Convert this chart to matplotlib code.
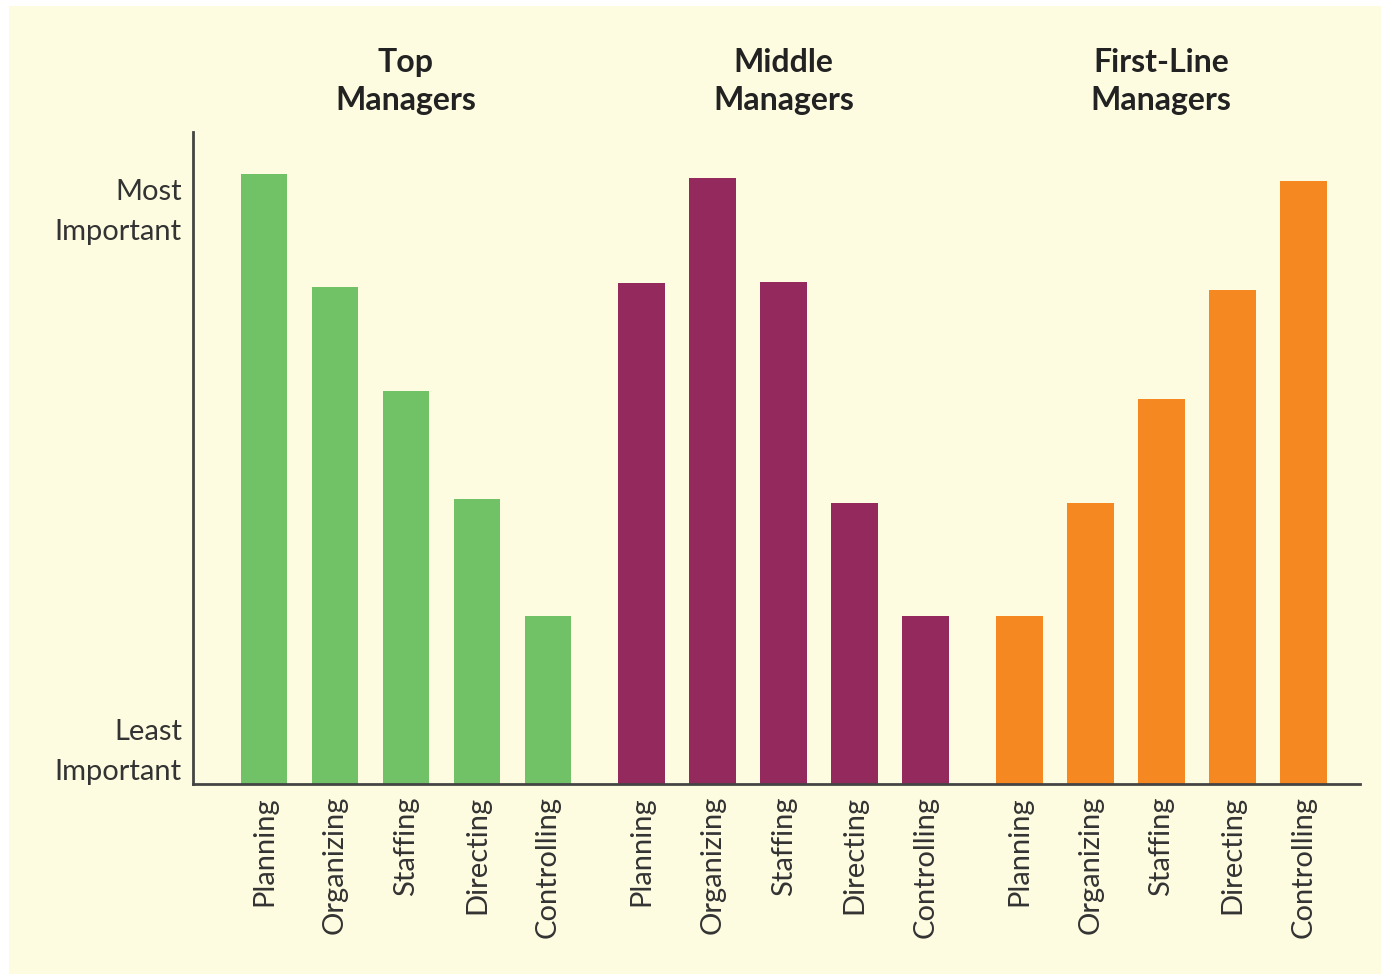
import matplotlib
matplotlib.use("Agg")
import matplotlib.pyplot as plt
from matplotlib.patches import Rectangle
import numpy as np

plt.rcParams['font.family'] = ['Lato', 'DejaVu Sans']

groups = ["Top\nManagers", "Middle\nManagers", "First-Line\nManagers"]
functions = ["Planning", "Organizing", "Staffing", "Directing", "Controlling"]
top_vals = [610, 497, 393, 285, 168]
middle_vals = [501, 606, 502, 281, 168]
first_vals = [168, 281, 385, 494, 603]
colors = ["#71C167", "#93295C", "#F58820"]
ytick_labels = ["Least\nImportant", "Most\nImportant"]

W, H = 1381, 978
fig = plt.figure(figsize=(W / 100, H / 100), dpi=100, facecolor="white")
fig.patches.append(Rectangle((9 / W, 3 / H), (W - 9) / W, (H - 10) / H,
                             transform=fig.transFigure, facecolor="#FEFCE0",
                             edgecolor="none", zorder=-10))

ax = fig.add_axes([193 / W, (H - 785) / H, (1360 - 193) / W, (785 - 133) / H])
ax.set_facecolor("none")
ax.set_zorder(5)

gstep = 5.32
series = [top_vals, middle_vals, first_vals]
xticks, xlabels = [], []
for g, vals in enumerate(series):
    xs = np.arange(len(functions)) + g * gstep
    ax.bar(xs, vals, width=0.66, color=colors[g], zorder=2)
    xticks.extend(xs)
    xlabels.extend(functions)
    ax.text(xs.mean(), 1.027, groups[g], transform=ax.get_xaxis_transform(),
            ha="center", va="bottom", fontsize=23, fontweight="bold",
            color="#222222", linespacing=1.4)

ax.set_xlim(-1, 2 * gstep + 4 + 0.8)
ax.set_ylim(0, 652)
ax.set_xticks(xticks)
ax.set_xticklabels(xlabels, rotation=90, fontsize=21, color="#333333")
ax.set_yticks([42, 582])
ax.set_yticklabels(ytick_labels, fontsize=21, color="#333333", linespacing=1.65)
ax.tick_params(axis="y", length=0, pad=8)
ax.tick_params(axis="x", length=0, pad=8)
for s in ["top", "right"]:
    ax.spines[s].set_visible(False)
for s in ["left", "bottom"]:
    ax.spines[s].set_color("#444444")
    ax.spines[s].set_linewidth(2)

fig.savefig("out.png", dpi=100, facecolor=fig.get_facecolor())
